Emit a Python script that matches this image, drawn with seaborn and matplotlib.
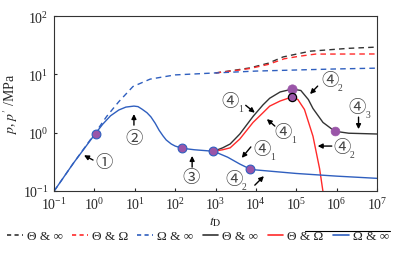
import numpy as np
import pandas as pd
import matplotlib
matplotlib.use('Agg')
import matplotlib.pyplot as plt
from matplotlib.lines import Line2D
import seaborn as sns

# dashed curves (t_D, p')
dash_blue_t = [0.1, 0.3, 1, 2, 4, 9, 24, 63, 100, 1e3, 1e4, 1e5, 1e6, 1e7]
dash_blue_p = [0.1, 0.3, 0.95, 1.9, 3.4, 6.2, 8.3, 9.3, 9.8, 10.6, 11.4, 11.9, 12.4, 12.8]
dash_black_t = [1e3, 3e3, 7e3, 2e4, 4.7e4, 2.2e5, 2e6, 1e7]
dash_black_p = [10.6, 11.8, 12.9, 15.5, 19.9, 25, 28, 29.4]
dash_red_t = [1e3, 3e3, 7e3, 2e4, 5e4, 1.2e5, 3e5, 1e7]
dash_red_p = [10.6, 11.6, 12.6, 14.8, 18.5, 20.5, 22.3, 22.4]

# solid curves (t_D, p)
blue_t = [0.1, 0.3, 1.0, 1.6, 2.5, 4, 6, 9.5, 12, 15, 20, 25, 32, 40, 50, 60, 80, 100, 150,
          300, 900, 2000, 4000, 7000, 1e4, 1e5, 1e6, 1e7]
blue_p = [0.1, 0.3, 0.92, 1.4, 1.95, 2.45, 2.75, 2.86, 2.8, 2.54, 2.2, 1.87, 1.45, 1.1, 0.88,
          0.75, 0.64, 0.59, 0.54, 0.51, 0.48, 0.38, 0.29, 0.24, 0.23, 0.2, 0.18, 0.165]
black_t = [900, 1500, 2300, 4000, 8500, 1.5e4, 2.2e4, 4e4, 8e4, 1.3e5, 2e5, 2.6e5, 4.6e5,
           9e5, 2e6, 1e7]
black_p = [0.48, 0.55, 0.64, 0.95, 1.9, 3.0, 3.9, 5.0, 5.6, 5.3, 3.7, 2.6, 1.5,
           1.06, 0.98, 0.95]
red_t = [900, 1500, 2300, 4000, 8500, 1.5e4, 2.2e4, 4e4, 7.8e4, 1.1e5, 1.6e5, 2.6e5, 3.8e5, 4.8e5]
red_p = [0.48, 0.51, 0.55, 0.78, 1.5, 2.2, 2.86, 3.5, 4.1, 3.7, 2.5, 0.87, 0.24, 0.08]

# marked points
dot_t = [1.1, 150, 850, 7000]
dot_p = [0.95, 0.54, 0.48, 0.24]
peak_t = [7.8e4]
peak_p = [5.6]
red_dot_t = [7.8e4]
red_dot_p = [4.1]
end_dot_t = [9e5]
end_dot_p = [1.06]

legend_labels = ['Θ & ∞', 'Θ & Ω', 'Ω & ∞', 'Θ & ∞', 'Θ & Ω', 'Ω & ∞']

BLUE = '#2f5fbf'
RED = '#ff2a2a'
BLACK = '#333333'
PURPLE = '#9a55a8'

sns.set_style('ticks')
plt.rcParams['font.family'] = ['Liberation Serif', 'DejaVu Serif']
plt.rcParams['mathtext.fontset'] = 'stix'
CIRC = ['Noto Sans CJK SC', 'DejaVu Sans']

fig = plt.figure(figsize=(4.04, 2.55), dpi=100)
ax = fig.add_axes([0.134, 0.247, 0.799, 0.686])

curves = [
    (dash_black_t, dash_black_p, BLACK, '--'),
    (dash_red_t, dash_red_p, RED, '--'),
    (dash_blue_t, dash_blue_p, BLUE, '--'),
    (black_t, black_p, BLACK, '-'),
    (red_t, red_p, RED, '-'),
    (blue_t, blue_p, BLUE, '-'),
]
handles = []
for (t, p, c, ls), lab in zip(curves, legend_labels):
    df = pd.DataFrame({'t': t, 'p': p})
    sns.lineplot(data=df, x='t', y='p', color=c, linestyle=ls, lw=1.0, ax=ax,
                 sort=False, estimator=None)
    h = Line2D([], [], color=c, linestyle=ls, lw=1.2, label=lab)
    if ls == '--':
        h.set_dashes((2.5, 2))
    handles.append(h)
for line in ax.lines:
    if line.get_linestyle() == '--':
        line.set_dashes((4, 3))

sns.scatterplot(x=dot_t, y=dot_p, color=PURPLE, edgecolor=BLUE, linewidth=0.8, s=40, ax=ax, zorder=5)
sns.scatterplot(x=peak_t, y=peak_p, color=PURPLE, edgecolor=PURPLE, linewidth=0.5, s=45, ax=ax, zorder=5)
sns.scatterplot(x=red_dot_t, y=red_dot_p, color=PURPLE, edgecolor='black', linewidth=0.9, s=35, ax=ax, zorder=6)
sns.scatterplot(x=end_dot_t, y=end_dot_p, color=PURPLE, edgecolor=PURPLE, linewidth=0.5, s=40, ax=ax, zorder=5)

ax.set_xscale('log')
ax.set_yscale('log')
ax.set_xlim(0.1, 1e7)
ax.set_ylim(0.1, 100)
ax.set_xticks([10.0 ** i for i in range(-1, 8)])
ax.set_yticks([10.0 ** i for i in range(-1, 3)])
ax.minorticks_off()
ax.tick_params(direction='in', length=2, labelsize=10, pad=4)
for s in ax.spines.values():
    s.set_linewidth(0.8)
    s.set_color('#333333')
ax.set_xlabel('$t_{\\mathrm{D}}$', fontsize=10, labelpad=1)
ax.set_ylabel("$p$, $p'$ /MPa", fontsize=10, labelpad=2)

# annotations: (label, subscript, text pos, arrow tail, arrow head)
notes = [
    ('①', '', (1.73, 0.31), (0.92, 0.34), (0.55, 0.41)),
    ('②', '', (9.5, 0.82), (9.5, 1.35), (9.5, 2.09)),
    ('③', '', (245, 0.175), (263, 0.257), (263, 0.40)),
    ('④', '1', (2250, 3.5), (5600, 2.95), (9400, 2.2)),
    ('④', '1', (4.7e4, 1.02), (2.95e4, 1.30), (1.87e4, 1.71)),
    ('④', '1', (1.4e4, 0.52), (7500, 0.57), (4470, 0.37)),
    ('④', '2', (2850, 0.16), (9400, 0.126), (1.58e4, 0.18)),
    ('④', '2', (6.8e5, 8.0), (3.4e5, 6.3), (2.2e5, 4.6)),
    ('④', '3', (3.3e6, 2.75), (3.5e6, 1.85), (3.5e6, 1.15)),
    ('④', '2', (1.35e6, 0.57), (7.6e5, 0.59), (3.4e5, 0.59)),
]
for lab, sub, txt, tail, head in notes:
    ax.annotate('', xy=head, xytext=tail,
                arrowprops=dict(arrowstyle='-|>', color='black', lw=1.0,
                                mutation_scale=7, shrinkA=0, shrinkB=0))
    ax.text(txt[0], txt[1], lab, family=CIRC, fontsize=12.5, ha='center', va='center',
            color='#444444')
    if sub:
        ax.annotate(sub, xy=txt, xytext=(7.5, -5.5), textcoords='offset points',
                    fontsize=7, ha='center', va='center', color='#444444')

fig.legend(handles=handles, loc='center', bbox_to_anchor=(0.49, 0.07), ncol=6,
           frameon=False, fontsize=9.5, handlelength=1.2, handletextpad=0.3,
           columnspacing=0.7, borderaxespad=0)
fig.add_artist(Line2D([305 / 404, 390 / 404], [1 - 232 / 255] * 2,
                      transform=fig.transFigure, color='black', lw=0.8))

fig.savefig('out.png', dpi=100)
